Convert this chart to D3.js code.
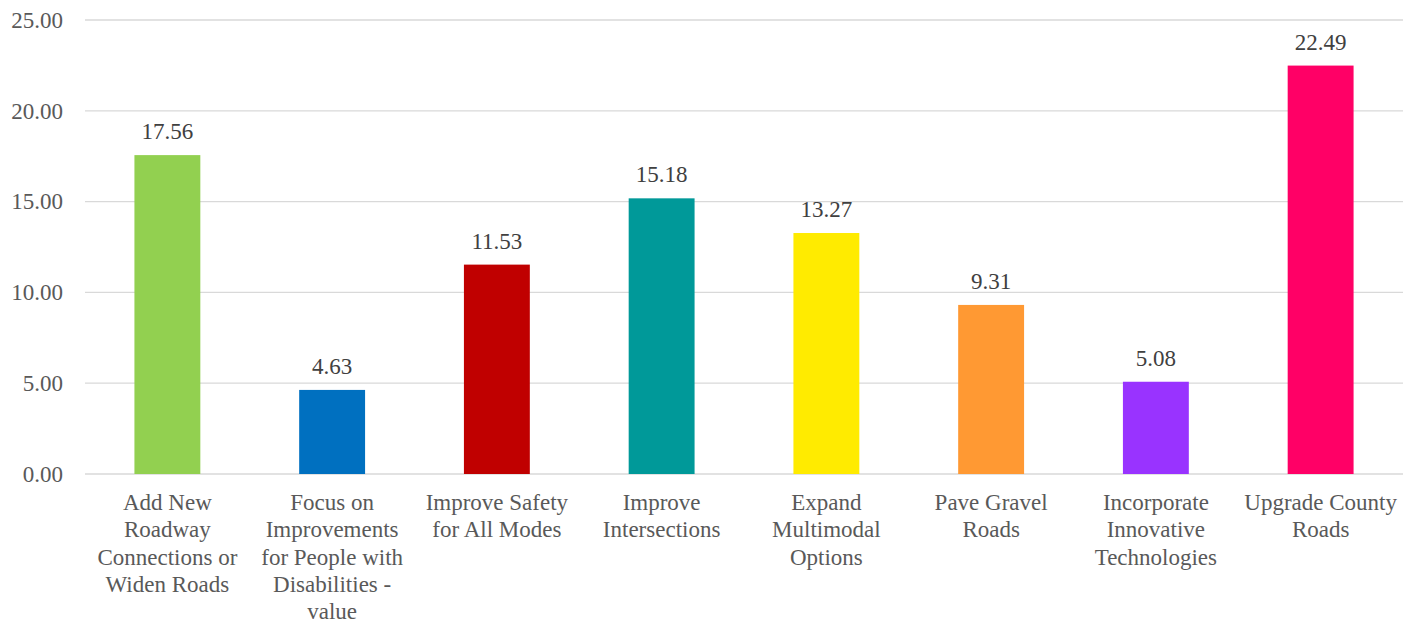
<!DOCTYPE html>
<html>
<head>
<meta charset="utf-8">
<script src="https://cdn.jsdelivr.net/npm/d3@7"></script>
<style>
  html, body { margin: 0; padding: 0; background: #fff; }
  svg { display: block; }
  .plot text { font-family: "Liberation Serif", serif; font-size: 23px; }
</style>
</head>
<body>
<svg id="fig" class="plot" width="1418" height="625"></svg>
<script>
// Categories (each as lines of the wrapped axis label)
const categories = [
  ["Add New", "Roadway", "Connections or", "Widen Roads"],
  ["Focus on", "Improvements", "for People with", "Disabilities -", "value"],
  ["Improve Safety", "for All Modes"],
  ["Improve", "Intersections"],
  ["Expand", "Multimodal", "Options"],
  ["Pave Gravel", "Roads"],
  ["Incorporate", "Innovative", "Technologies"],
  ["Upgrade County", "Roads"]
];
const values = [17.56, 4.63, 11.53, 15.18, 13.27, 9.31, 5.08, 22.49];
const colors = ["#92D050", "#0070C0", "#C00000", "#009999", "#FFEB00", "#FF9933", "#9933FF", "#FF0066"];
const yTicks = [0, 5, 10, 15, 20, 25];

const svg = d3.select("#fig");
const margin = { left: 85, right: 15, top: 20, bottom: 151 };
const W = 1418, H = 625;
const serif = '"Liberation Serif", serif';

const x = d3.scaleBand()
  .domain(d3.range(categories.length))
  .range([margin.left, W - margin.right])
  .paddingInner(0.6)
  .paddingOuter(0.3);

const y = d3.scaleLinear()
  .domain([0, 25])
  .range([H - margin.bottom, margin.top]);

// gridlines
svg.append("g")
  .selectAll("line")
  .data(yTicks)
  .join("line")
  .attr("x1", margin.left)
  .attr("x2", W - margin.right)
  .attr("y1", d => y(d))
  .attr("y2", d => y(d))
  .attr("stroke", "#d9d9d9")
  .attr("stroke-width", 1.3);

// y axis labels
const yAxis = d3.axisLeft(y).tickValues(yTicks).tickFormat(d3.format(".2f")).tickSize(0).tickPadding(22);
const gy = svg.append("g").attr("transform", `translate(${margin.left},0)`).call(yAxis);
gy.select(".domain").remove();
gy.attr("font-family", null).attr("font-size", null);
gy.selectAll("text")
  .attr("fill", "#595959")
  .style("font-family", serif)
  .style("font-size", "23px");

// bars
svg.append("g")
  .selectAll("rect")
  .data(values)
  .join("rect")
  .attr("x", (d, i) => x(i))
  .attr("width", x.bandwidth())
  .attr("y", d => y(d))
  .attr("height", d => y(0) - y(d))
  .attr("fill", (d, i) => colors[i]);

// value labels
svg.append("g")
  .selectAll("text")
  .data(values)
  .join("text")
  .attr("x", (d, i) => x(i) + x.bandwidth() / 2)
  .attr("y", d => y(d) - 16)
  .attr("text-anchor", "middle")
  .attr("fill", "#404040")
  .style("font-family", serif)
  .style("font-size", "23px")
  .text(d => d3.format(".2f")(d));

// category labels
const xl = svg.append("g")
  .selectAll("text")
  .data(categories)
  .join("text")
  .attr("x", (d, i) => x(i) + x.bandwidth() / 2)
  .attr("y", y(0) + 36)
  .attr("text-anchor", "middle")
  .attr("fill", "#595959")
  .style("font-family", serif)
  .style("font-size", "23px");
xl.selectAll("tspan")
  .data(d => d)
  .join("tspan")
  .attr("x", function () { return d3.select(this.parentNode).attr("x"); })
  .attr("dy", (d, j) => j === 0 ? 0 : 27.3)
  .text(d => d);
</script>
</body>
</html>
